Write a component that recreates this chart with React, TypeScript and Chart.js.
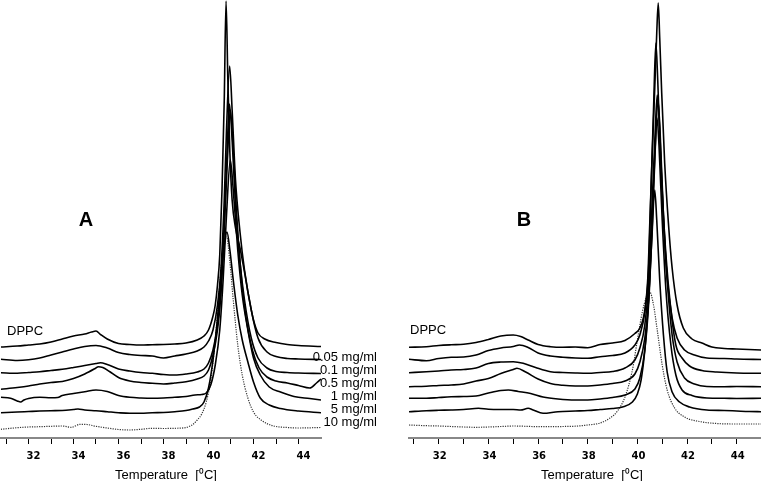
import React, { useEffect, useRef } from 'react';
import { Chart, registerables } from 'chart.js';

Chart.register(...registerables);

type Pt = [number, number];

const seriesNames = ['DPPC', '0.05 mg/ml', '0.1 mg/ml', '0.5 mg/ml', '1 mg/ml', '5 mg/ml', '10 mg/ml'];
const concLabels = ['0.05 mg/ml', '0.1 mg/ml', '0.5 mg/ml', '1 mg/ml', '5 mg/ml', '10 mg/ml'];
const tickValues = [31, 32, 33, 34, 35, 36, 37, 38, 39, 40, 41, 42, 43, 44];
const axisTitle = 'Temperature  [\u2070C]';
const panelLetters = ['A', 'B'];

// Panel A (temperature °C, heat flow a.u., curves offset)
const A_DPPC: Pt[] = [[30.77,91],[31.5,92],[32,93],[32.5,94],[33,96],[33.5,99],[34,102],[34.5,104],[34.8,106],[35,107],[35.2,103.5],[35.5,99],[36,94.5],[36.5,93.5],[37,93],[37.5,93.3],[38,93.5],[38.5,94],[39,95],[39.5,98],[39.8,102],[40,108],[40.2,122],[40.3,133],[40.4,153],[40.5,183],[40.6,248],[40.7,338],[40.78,437],[40.86,358],[40.95,285],[41.05,238],[41.2,210],[41.4,190],[41.6,166],[41.8,140],[42,118],[42.2,105],[42.5,99],[43,95.5],[43.5,93.5],[44,92.5],[45,91.5]];
const A_005: Pt[] = [[30.77,78.7],[31.5,77.5],[32,78.2],[32.5,80],[33,83],[33.5,86],[34,89],[34.5,91.5],[35,92.5],[35.5,90],[36,85.5],[36.5,83.5],[37,82.5],[37.5,82],[38,80],[38.5,82],[39,84],[39.5,87],[39.8,91],[40,97],[40.2,108],[40.4,133],[40.55,168],[40.7,238],[40.8,308],[40.94,372],[41.05,328],[41.2,258],[41.4,206],[41.6,168],[41.9,128],[42.2,100],[42.6,86],[43,81.5],[43.5,79.5],[44,79],[45,78.5]];
const A_01: Pt[] = [[30.77,65.3],[31.5,64.7],[32,65.5],[32.5,66.3],[33,67.5],[33.5,68.7],[34,70.5],[34.5,72.5],[35,74.5],[35.2,75.3],[35.5,73.5],[36,69],[36.5,67],[37,65.5],[37.5,64.7],[38,63.5],[38.5,63],[39,64],[39.5,66],[39.8,69],[40,75],[40.2,88],[40.4,113],[40.55,148],[40.7,213],[40.82,283],[40.93,334],[41.05,298],[41.2,233],[41.4,176],[41.6,138],[41.9,100],[42.2,80],[42.6,70],[43,66.5],[43.5,65.5],[44,65],[45,64.5]];
const A_05: Pt[] = [[30.77,48.7],[31.5,50.5],[32,52],[32.5,54],[33,55.5],[33.5,56.5],[34,59.5],[34.5,64],[35,70],[35.1,71.3],[35.3,70.5],[35.6,66.5],[36,60.5],[36.5,57],[37,55.5],[37.5,54.7],[38,54],[38.5,55],[39,56.3],[39.5,59],[39.8,62],[40,68],[40.2,83],[40.4,108],[40.55,143],[40.7,208],[40.84,278],[40.97,328],[41.1,288],[41.25,223],[41.45,163],[41.65,123],[41.95,88],[42.25,70],[42.6,61],[43,57],[43.5,55],[44,52.5],[44.5,50],[44.8,55],[45,59]];
const A_1: Pt[] = [[30.77,40.7],[31.2,39.7],[31.5,37],[31.65,36],[31.8,38],[32,39.5],[32.5,40.7],[33,40.2],[33.3,40.5],[33.5,42.5],[34,44.5],[34.5,46.3],[35,48],[35.5,46.5],[36,42.5],[36.5,40.7],[37,40],[37.5,39.7],[38,40],[38.5,40.7],[39,41.5],[39.4,43],[39.7,43.5],[39.9,45],[40.1,53],[40.3,73],[40.5,108],[40.65,158],[40.8,223],[40.97,278],[41.1,248],[41.3,188],[41.5,143],[41.75,108],[42,80],[42.3,63],[42.7,51],[43.2,46],[43.8,41.5],[44.5,39.5],[45,38]];
const A_5: Pt[] = [[30.77,25.3],[31.5,26],[32,26.5],[32.5,27],[33,27.3],[33.5,27.5],[34,28.5],[34.2,29],[34.5,28],[35,27.3],[35.5,26.3],[36,25.3],[36.5,24.7],[37,24.7],[37.5,25.3],[38,25.5],[38.5,26.3],[39,27.5],[39.3,29],[39.6,31],[39.8,36],[40,50],[40.2,78],[40.4,120],[40.55,158],[40.7,193],[40.82,206],[40.95,188],[41.1,158],[41.3,123],[41.5,98],[41.75,76],[42,56],[42.3,40],[42.7,33],[43.2,29.5],[44,27],[45,25.3]];
const A_10: Pt[] = [[30.77,8.7],[31.5,10.3],[32,11],[32.5,11.3],[33,11.7],[33.5,12],[33.9,10.7],[34.3,13.7],[34.6,13.5],[35,11.7],[35.5,10],[36,8.5],[36.5,8],[37,8.7],[37.5,9.7],[38,9.5],[38.5,9.7],[39,10.5],[39.3,13.5],[39.5,18],[39.7,24],[39.9,36],[40.1,58],[40.3,98],[40.5,153],[40.65,190],[40.8,201],[40.95,176],[41.1,138],[41.3,93],[41.5,63],[41.75,40],[42,26],[42.4,17],[42.9,12],[43.5,10.5],[44,10],[45,10.5]];

// Panel B
const B_DPPC: Pt[] = [[30.8,90.7],[31.5,91.3],[32,92.5],[32.5,93.2],[33,93.7],[33.5,95.5],[34,98.5],[34.5,102],[35,103],[35.3,101.5],[35.6,98],[36,93.5],[36.5,91.3],[37,90.7],[37.5,91],[38,90.2],[38.5,93.5],[39,95],[39.5,97.5],[39.9,104.5],[40.1,110],[40.3,128],[40.42,160],[40.5,215],[40.6,285],[40.7,350],[40.78,405],[40.84,435],[40.9,400],[40.98,345],[41.1,275],[41.25,215],[41.4,170],[41.6,133],[41.85,110],[42.2,99],[42.6,95],[43,91],[43.5,89.5],[44,89],[45,88]];
const B_005: Pt[] = [[30.8,78.7],[31.5,77.3],[32,79.5],[32.5,80.7],[33,81],[33.5,83],[34,87.5],[34.5,90],[35,91.5],[35.25,93],[35.6,90.5],[36,85],[36.5,82],[37,80.7],[37.5,80],[38,79.7],[38.5,81.3],[39,82.5],[39.5,85],[39.9,93],[40.1,103],[40.3,126],[40.45,168],[40.55,248],[40.65,328],[40.745,395],[40.82,358],[40.92,288],[41.05,218],[41.2,160],[41.4,120],[41.6,100],[41.9,88],[42.3,83],[42.8,80],[43.5,79.5],[44,79],[45,78.5]];
const B_01: Pt[] = [[30.8,65.3],[31.5,66.2],[32,67],[32.5,68],[33,68.5],[33.5,70],[34,74.5],[34.5,76],[35,76.3],[35.4,74.7],[35.9,70.5],[36.5,66.3],[37,65.5],[37.5,65],[38,64.7],[38.5,65.5],[39,66.5],[39.5,70],[39.9,78],[40.1,90],[40.3,113],[40.45,153],[40.6,238],[40.72,308],[40.8,343],[40.88,318],[41,248],[41.15,183],[41.35,128],[41.55,93],[41.8,80],[42.1,72],[42.6,67.5],[43.2,66],[44,65],[45,64.7]];
const B_05: Pt[] = [[30.8,51.3],[31.5,51.8],[32,52.5],[32.5,53],[33,54],[33.5,57],[34,59.5],[34.5,64.5],[35,68.5],[35.15,69.7],[35.5,66],[36,59],[36.5,54.5],[37,52.7],[37.5,52],[38,52],[38.5,53],[39,54.5],[39.5,57],[39.9,64],[40.1,76],[40.3,100],[40.45,138],[40.6,223],[40.73,298],[40.83,338],[40.92,303],[41.05,223],[41.2,158],[41.4,103],[41.6,76],[41.9,60],[42.3,54],[42.8,51.5],[43.5,51.3],[44,51.5],[45,51.3]];
const B_1: Pt[] = [[30.8,39.7],[31.5,39.7],[32,40.5],[32.5,41.2],[33,41.5],[33.5,42],[34,45],[34.5,47.5],[34.8,48],[35.2,46.5],[35.7,44.5],[36.2,41],[36.8,39],[37.5,38],[38,38],[38.5,39],[39,40.5],[39.5,43],[39.9,49],[40.1,60],[40.3,88],[40.45,133],[40.6,213],[40.71,283],[40.79,320],[40.87,293],[41,218],[41.15,148],[41.35,93],[41.55,63],[41.8,48],[42.2,42.5],[42.8,40],[43.5,39.7],[44,39.5],[45,39.7]];
const B_5: Pt[] = [[30.8,26.3],[31.5,27.3],[32,27.7],[32.5,28],[33,28.5],[33.6,29.7],[34,28.7],[34.5,28.5],[35,28.5],[35.3,28],[35.6,29.7],[35.8,28],[36.2,24.7],[36.8,26.3],[37.5,27],[38,27.5],[38.5,28.5],[39,29.5],[39.4,31],[39.8,36],[40,44],[40.15,58],[40.3,88],[40.45,138],[40.58,198],[40.7,248],[40.78,218],[40.9,158],[41.05,103],[41.2,66],[41.4,46],[41.7,36],[42.1,31],[42.8,28],[43.5,27.5],[44,27],[44.5,26.5],[45,26.3]];
const B_10: Pt[] = [[30.8,13],[31.5,12.3],[32,12],[32.5,11.5],[33,11],[33.5,10.7],[34,11],[34.5,11.5],[35,12],[35.5,11.7],[36,11.3],[36.5,11.3],[37,11.5],[37.5,11.8],[38,13],[38.5,15],[38.9,20],[39.2,27],[39.5,41],[39.8,68],[40,98],[40.2,126],[40.35,140],[40.5,146],[40.65,133],[40.8,108],[41,73],[41.2,48],[41.5,30],[41.9,21],[42.5,16.5],[43.2,14.5],[44,14],[45,14]];

const panelA = [A_DPPC, A_005, A_01, A_05, A_1, A_5, A_10];
const panelB = [B_DPPC, B_005, B_01, B_05, B_1, B_5, B_10];

type TextItem = { text: string; x: number; y: number; font: string; align: CanvasTextAlign };

const SANS = '"Liberation Sans", Arial, sans-serif';

function buildChart(
  canvas: HTMLCanvasElement,
  curves: Pt[][],
  xMin: number,
  xMax: number,
  padLeft: number,
  padRight: number,
  labelOffset: number,
  texts: TextItem[]
) {
  const textPlugin = {
    id: 'panelText',
    afterDraw(chart: any) {
      const ctx = chart.ctx as CanvasRenderingContext2D;
      ctx.save();
      ctx.fillStyle = '#000';
      ctx.textBaseline = 'middle';
      texts.forEach((t) => {
        ctx.font = t.font;
        ctx.textAlign = t.align;
        ctx.fillText(t.text, t.x, t.y);
      });
      ctx.restore();
    },
  };
  return new Chart(canvas, {
    type: 'line',
    data: {
      datasets: curves.map((pts, i) => ({
        label: seriesNames[i],
        data: pts.map(([x, y]) => ({ x, y })),
        borderColor: i === 6 ? '#333' : '#000',
        borderWidth: i === 6 ? 1.2 : 1.6,
        borderDash: i === 6 ? [1.2, 1.2] : [],
        pointRadius: 0,
        fill: false,
        cubicInterpolationMode: 'monotone' as const,
      })),
    },
    options: {
      animation: false,
      responsive: false,
      layout: { padding: { left: padLeft, right: padRight, top: 0, bottom: 0 } },
      plugins: { legend: { display: false }, tooltip: { enabled: false }, title: { display: false } },
      scales: {
        x: {
          type: 'linear',
          min: xMin,
          max: xMax,
          afterBuildTicks: (s: any) => {
            s.ticks = tickValues.map((v) => ({ value: v }));
          },
          afterFit: (s: any) => {
            s.height = 43;
          },
          grid: { drawOnChartArea: false, drawTicks: true, tickLength: 6, color: '#000', lineWidth: 1 },
          border: { display: true, color: '#888', width: 2 },
          ticks: {
            autoSkip: false,
            maxRotation: 0,
            padding: 6,
            labelOffset,
            color: '#000',
            font: { family: '"DejaVu Sans", sans-serif', size: 10, weight: 'bold' },
            callback: (v: any) => (Number(v) % 2 === 0 ? String(v) : ''),
          },
        },
        y: { type: 'linear', display: false, min: 0, max: 438 },
      },
    },
    plugins: [textPlugin],
  } as any);
}

export default function App() {
  const refA = useRef<HTMLCanvasElement>(null);
  const refB = useRef<HTMLCanvasElement>(null);

  useEffect(() => {
    document.body.style.margin = '0';
    const concY = [357, 370, 383.5, 396, 409.5, 422.5];
    const textsA: TextItem[] = [
      { text: panelLetters[0], x: 86, y: 220, font: `bold 20px ${SANS}`, align: 'center' },
      { text: seriesNames[0], x: 7, y: 331.5, font: `13px ${SANS}`, align: 'left' },
      ...concLabels.map((t, i) => ({ text: t, x: 377, y: concY[i], font: `13px ${SANS}`, align: 'right' as CanvasTextAlign })),
      { text: axisTitle, x: 166, y: 475, font: `13px ${SANS}`, align: 'center' },
    ];
    const textsB: TextItem[] = [
      { text: panelLetters[1], x: 144, y: 220, font: `bold 20px ${SANS}`, align: 'center' },
      { text: seriesNames[0], x: 30, y: 330, font: `13px ${SANS}`, align: 'left' },
      { text: axisTitle, x: 212, y: 475, font: `13px ${SANS}`, align: 'center' },
    ];
    const cA = buildChart(refA.current!, panelA, 30.77, 45.0, 0, 59, 5, textsA);
    const cB = buildChart(refB.current!, panelB, 30.8, 44.98, 29, 0, 1, textsB);
    return () => {
      cA.destroy();
      cB.destroy();
    };
  }, []);

  return (
    <div style={{ position: 'relative', width: 761, height: 481, background: '#fff' }}>
      <canvas ref={refA} width={380} height={481} style={{ position: 'absolute', left: 0, top: 0 }} />
      <canvas ref={refB} width={381} height={481} style={{ position: 'absolute', left: 380, top: 0 }} />
    </div>
  );
}
